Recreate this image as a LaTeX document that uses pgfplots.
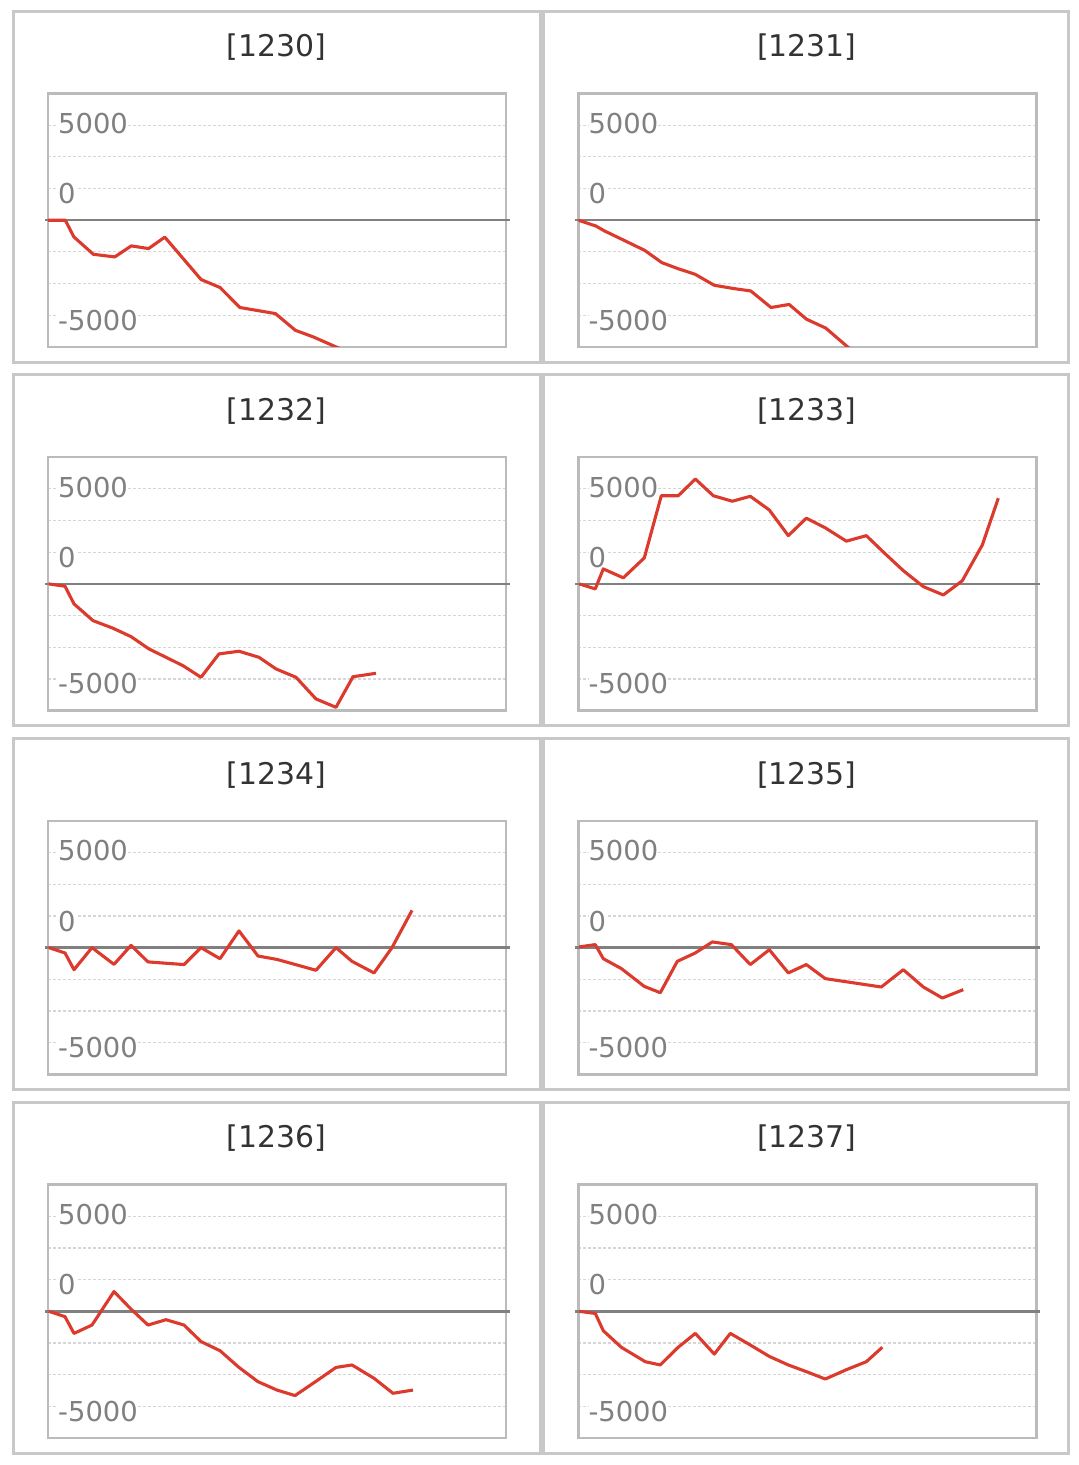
\documentclass[border=0pt]{standalone}
\usepackage{fontspec}
\setmainfont{DejaVu Sans}
\usepackage{pgfplots}
\usepackage{pgfplotstable}
\pgfplotsset{compat=1.18}
\definecolor{linered}{HTML}{DC3A2C}
\definecolor{panelgray}{HTML}{C8C8C8}
\definecolor{framegray}{HTML}{BBBBBB}
\definecolor{gridgray}{HTML}{D6D6D6}
\definecolor{zerogray}{HTML}{808080}
\definecolor{labelgray}{HTML}{808080}
\definecolor{titlegray}{HTML}{333333}

\pgfplotstableread{
x y
0 0
17.3 0
25.9 -880
45.3 -1790
66.7 -1930
83.3 -1350
100.6 -1490
116.8 -890
153.1 -3120
172.1 -3540
191.8 -4590
227.4 -4910
247.4 -5790
265.4 -6140
284.4 -6580
303 -7000
}\tA
\pgfplotstableread{
x y
0 0
17.4 -300
26.1 -560
47 -1090
66.2 -1580
83.6 -2230
99.3 -2540
116.7 -2840
135.9 -3420
155 -3590
172.5 -3720
192.7 -4590
210.8 -4430
228.3 -5210
247.4 -5670
266.6 -6540
285 -7360
}\tB
\pgfplotstableread{
x y
1 0
17 -120
26 -1050
45 -1930
65 -2330
83 -2770
101 -3420
118 -3860
135 -4300
153 -4910
171 -3680
191 -3540
211 -3860
228 -4470
248 -4910
268 -6050
288 -6490
305 -4880
328 -4700
}\tC
\pgfplotstableread{
x y
1 0
17 -260
25 790
45 320
66 1370
83 4640
100 4640
117 5520
135 4640
154 4350
172 4610
191 3890
210 2540
228 3460
247 2950
268 2250
288 2540
307 1580
325 700
345 -140
365 -580
384 170
404 2050
420 4510
}\tD
\pgfplotstableread{
x y
1 0
17 -280
26 -1160
44 0
66 -880
83 120
100 -750
136 -890
153 0
172 -580
191 880
210 -440
229 -620
268 -1190
288 0
304 -720
326 -1330
344 0
364 1960
}\tE
\pgfplotstableread{
x y
1 40
17 160
25 -580
43 -1100
66 -2040
82 -2370
99 -720
117 -280
134 300
153 160
172 -890
191 -110
210 -1330
228 -890
247 -1630
303 -2070
325 -1160
345 -2070
364 -2650
385 -2210
}\tF
\pgfplotstableread{
x y
1 0
17 -280
26 -1160
44 -720
66 1040
83 120
100 -720
118 -440
136 -720
153 -1590
172 -2070
191 -2950
210 -3700
229 -4140
247 -4430
268 -3680
288 -2950
304 -2820
326 -3520
345 -4310
365 -4140
}\tG
\pgfplotstableread{
x y
1 0
17 -110
25 -1020
43 -1890
67 -2650
82 -2820
99 -1930
117 -1160
136 -2250
152 -1160
172 -1770
191 -2370
210 -2820
228 -3170
247 -3560
268 -3070
288 -2650
304 -1890
}\tH

\pgfplotsset{panelaxis/.style={
  anchor=south west, scale only axis,
  width=458bp, height=253.5bp,
  xmin=0, xmax=458, ymin=-6667, ymax=6667,
  axis line style={framegray, line width=2.5bp},
  xtick=\empty,
  ytick={-5250,1390,5090}, yticklabels={-5000,0,5000},
  yticklabel style={anchor=west, inner sep=0pt, xshift=10bp, fill=white,
    font=\fontsize{27.5}{27.5}\selectfont, text=labelgray},
  major tick length=0pt, minor tick length=0pt,
  minor ytick={-5000,-3333,-1667,1667,3333,5000},
  yminorgrids,
  minor grid style={gridgray, line width=1.1bp, dash pattern=on 3bp off 2bp},
  clip mode=individual,
}}

% #1 dx, #2 dy, #3 title, #4 table, #5 box left, #6 box right
\newcommand\panel[6]{%
  \draw[panelgray, line width=3bp] (#5bp, 1453.7bp-#2bp) rectangle (#6bp, 1102.7bp-#2bp);
  \node[text=titlegray, font=\fontsize{30}{30}\selectfont, anchor=base, inner sep=0pt] at (276.5bp+#1bp, 1408.3bp-#2bp) {[#3]};
  \begin{axis}[panelaxis, at={(48bp+#1bp, 1118bp-#2bp)}]
    \draw[zerogray, line width=2.4bp] (axis cs:-3,0) -- (axis cs:462,0);
    \addplot[linered, line width=3.1bp, line join=round, mark=none] table {#4};
  \end{axis}
}

\begin{document}
\begin{tikzpicture}
\path[use as bounding box] (0bp,0bp) rectangle (1079bp,1465bp);
\panel{0}{0}{1230}{\tA}{13.4}{540.8}
\panel{530.3}{0}{1231}{\tB}{543.6}{1068.8}
\panel{0}{363.7}{1232}{\tC}{13.4}{540.8}
\panel{530.3}{363.7}{1233}{\tD}{543.6}{1068.8}
\panel{0}{727.4}{1234}{\tE}{13.4}{540.8}
\panel{530.3}{727.4}{1235}{\tF}{543.6}{1068.8}
\panel{0}{1091.1}{1236}{\tG}{13.4}{540.8}
\panel{530.3}{1091.1}{1237}{\tH}{543.6}{1068.8}
\end{tikzpicture}
\end{document}
